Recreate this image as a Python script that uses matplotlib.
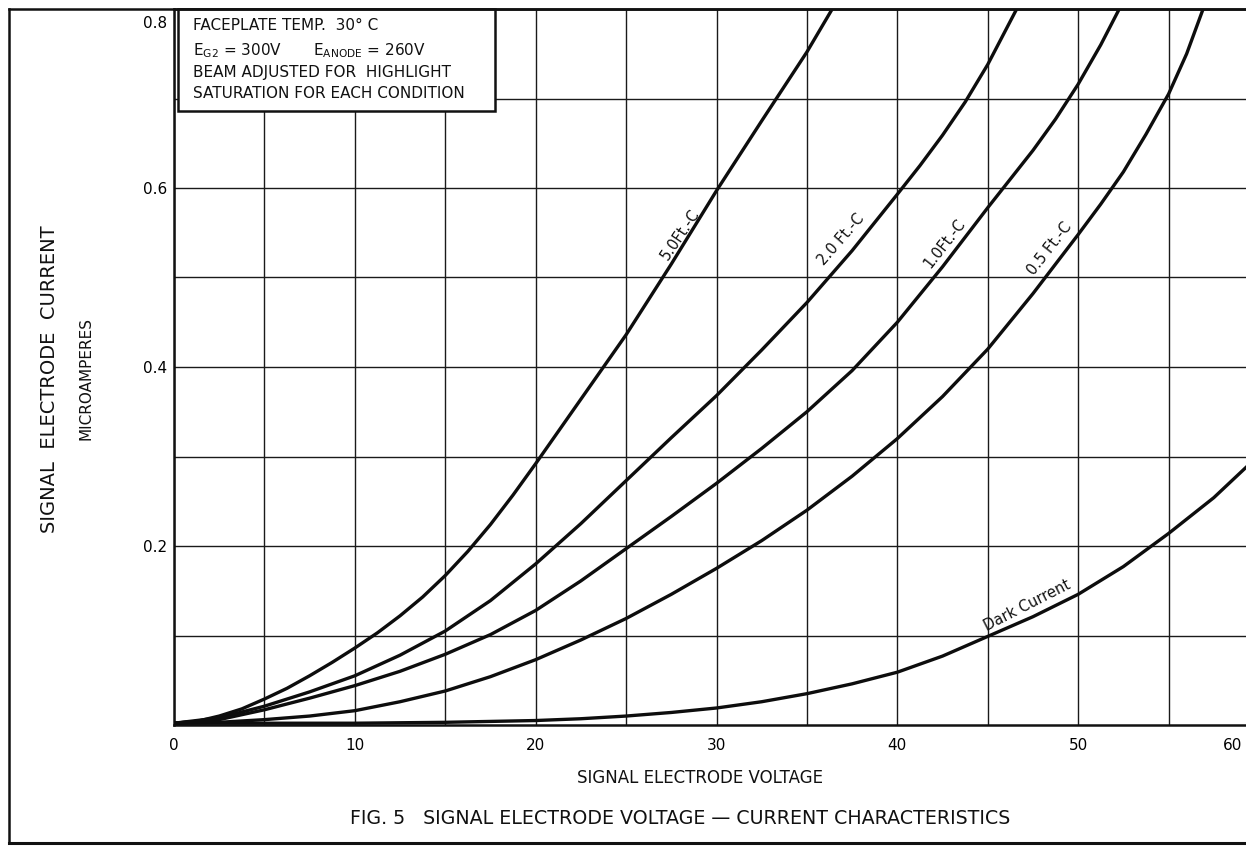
import matplotlib
matplotlib.use("Agg")
import matplotlib.pyplot as plt
from matplotlib.lines import Line2D
from matplotlib.patches import Rectangle
from matplotlib.transforms import ScaledTranslation

plt.rcParams['font.family'] = ['DejaVu Sans']

# signal electrode voltage (V) / current (microamperes)
x_50 = [0, 1.25, 2.5, 3.75, 5, 6.25, 7.5, 8.75, 10, 11.25, 12.5, 13.75, 15, 16.25, 17.5,
        18.75, 20, 22.5, 25, 27.5, 30, 32.5, 35, 36.4]
y_50 = [0.002, 0.004, 0.010, 0.018, 0.029, 0.041, 0.055, 0.070, 0.086, 0.103, 0.122, 0.143,
        0.167, 0.194, 0.224, 0.257, 0.292, 0.364, 0.436, 0.515, 0.597, 0.675, 0.752, 0.800]

x_20 = [0, 2.5, 5, 7.5, 10, 12.5, 15, 17.5, 20, 22.5, 25, 27.5, 30, 32.5, 35, 37.5, 40,
        41.25, 42.5, 43.75, 45, 46.6]
y_20 = [0.002, 0.008, 0.021, 0.037, 0.055, 0.078, 0.105, 0.139, 0.180, 0.225, 0.273, 0.321,
        0.368, 0.419, 0.472, 0.530, 0.593, 0.625, 0.659, 0.696, 0.738, 0.800]

x_10 = [0, 2.5, 5, 7.5, 10, 12.5, 15, 17.5, 20, 22.5, 25, 27.5, 30, 32.5, 35, 37.5, 40,
        42.5, 45, 47.5, 48.75, 50, 51.25, 52.4]
y_10 = [0.002, 0.006, 0.017, 0.030, 0.044, 0.060, 0.079, 0.101, 0.128, 0.161, 0.197, 0.233,
        0.270, 0.309, 0.350, 0.396, 0.450, 0.512, 0.578, 0.642, 0.677, 0.716, 0.760, 0.805]

x_05 = [0, 2.5, 5, 7.5, 10, 12.5, 15, 17.5, 20, 22.5, 25, 27.5, 30, 32.5, 35, 37.5, 40,
        42.5, 45, 47.5, 50, 51.25, 52.5, 53.75, 55, 56, 57]
y_05 = [0.002, 0.003, 0.006, 0.010, 0.016, 0.026, 0.038, 0.054, 0.073, 0.095, 0.119, 0.146,
        0.175, 0.206, 0.240, 0.278, 0.320, 0.367, 0.420, 0.482, 0.548, 0.582, 0.618, 0.660,
        0.705, 0.750, 0.805]

x_dark = [0, 5, 10, 15, 20, 22.5, 25, 27.5, 30, 32.5, 35, 37.5, 40, 42.5, 45, 47.5, 50,
          52.5, 55, 57.5, 59.5]
y_dark = [0.002, 0.002, 0.002, 0.003, 0.005, 0.007, 0.010, 0.014, 0.019, 0.026, 0.035,
          0.046, 0.059, 0.077, 0.099, 0.121, 0.146, 0.177, 0.214, 0.254, 0.292]

curves = [(x_50, y_50), (x_20, y_20), (x_10, y_10), (x_05, y_05), (x_dark, y_dark)]

# curve labels: text, x, y, rotation
curve_labels = [("5.0Ft.-C", 28.0, 0.548, 56),
                ("2.0 Ft.-C", 36.9, 0.543, 49),
                ("1.0Ft.-C", 42.6, 0.538, 52),
                ("0.5 Ft.-C", 48.4, 0.532, 52),
                ("Dark Current", 47.2, 0.134, 27)]

x_ticks = [0, 10, 20, 30, 40, 50, 60]
y_ticks = [0.2, 0.4, 0.6, 0.8]

W, H = 1246, 847
fig = plt.figure(figsize=(W / 100, H / 100), dpi=100)
fig.patch.set_facecolor('white')

# x=0 at px 174, x=60 at px 1259 ; y=0 at px 725, y=0.8 at px 9
ax = fig.add_axes([174 / W, (H - 725) / H, (1259 - 174) / W, (725 - 9) / H])
ax.set_xlim(0, 60)
ax.set_ylim(0, 0.8)

ax.set_xticks(x_ticks)
ax.set_xticks([v + 5 for v in x_ticks[:-1]], minor=True)
ax.set_yticks(y_ticks)
ax.set_yticks([0.1, 0.3, 0.5, 0.7], minor=True)
ax.set_xticklabels([str(v) for v in x_ticks])
ax.set_yticklabels(["%.1f" % v for v in y_ticks])
ax.tick_params(which='both', length=0)
ax.tick_params(axis='x', pad=9, labelsize=11)
ax.tick_params(axis='y', pad=5, labelsize=11)
ax.grid(True, which='both', color='#1a1a1a', lw=1.0)
ax.set_axisbelow(True)

for s in ['left', 'bottom', 'top']:
    ax.spines[s].set_linewidth(1.8)
    ax.spines[s].set_color('#111111')
ax.spines['right'].set_visible(False)

# move the last x label inside the picture and the top y label below the border
lab = ax.get_xticklabels()[-1]
lab.set_transform(lab.get_transform() + ScaledTranslation(-0.26, 0, fig.dpi_scale_trans))
lab = ax.get_yticklabels()[-1]
lab.set_transform(lab.get_transform() + ScaledTranslation(0, -0.13, fig.dpi_scale_trans))

for xs, ys in curves:
    ax.plot(xs, ys, color='#0d0d0d', lw=2.4, solid_capstyle='round',
            solid_joinstyle='round', zorder=3)

for txt, lx, ly, rot in curve_labels:
    ax.text(lx, ly, txt, rotation=rot, rotation_mode='anchor', ha='center', va='center',
            fontsize=10.5, color='#111111', zorder=4)

# note box in upper left
bx0, bx1 = (178 - 174) / 1085, (495 - 174) / 1085
by0 = (725 - 111) / 716
ax.add_patch(Rectangle((bx0, by0), bx1 - bx0, 1 - by0, transform=ax.transAxes,
                       facecolor='white', edgecolor='#111111', lw=1.8, zorder=5,
                       clip_on=False))
tx = (193 - 174) / 1085
box_kw = dict(transform=ax.transAxes, fontsize=11, color='#111111', va='center',
              ha='left', zorder=6)
ax.text(tx, (725 - 26) / 716, "FACEPLATE TEMP.  30° C", **box_kw)
ax.text(tx, (725 - 51) / 716, r"E$_{\mathrm{G2}}$ = 300V", **box_kw)
ax.text((313 - 174) / 1085, (725 - 51) / 716, r"E$_{\mathrm{ANODE}}$ = 260V", **box_kw)
ax.text(tx, (725 - 72) / 716, "BEAM ADJUSTED FOR  HIGHLIGHT", **box_kw)
ax.text(tx, (725 - 93) / 716, "SATURATION FOR EACH CONDITION", **box_kw)

# axis titles and caption
fig.text(50 / W, (H - 379) / H, "SIGNAL  ELECTRODE  CURRENT", rotation=90,
         ha='center', va='center', fontsize=14, color='#111111')
fig.text(86 / W, (H - 378) / H, "MICROAMPERES", rotation=90,
         ha='center', va='center', fontsize=11, color='#111111')
fig.text(700 / W, (H - 778) / H, "SIGNAL ELECTRODE VOLTAGE",
         ha='center', va='center', fontsize=12, color='#111111')
fig.text(680 / W, (H - 818) / H,
         "FIG. 5   SIGNAL ELECTRODE VOLTAGE \u2014 CURRENT CHARACTERISTICS",
         ha='center', va='center', fontsize=13.7, color='#111111')

# page frame
fl = 9 / W
fb = (H - 843) / H
ft = (H - 9) / H
fig.add_artist(Line2D([fl, fl], [fb, ft], transform=fig.transFigure, color='#111111', lw=1.8))
fig.add_artist(Line2D([fl, 1], [fb, fb], transform=fig.transFigure, color='#111111', lw=2.2))
fig.add_artist(Line2D([fl, 1], [ft, ft], transform=fig.transFigure, color='#111111', lw=1.8))

fig.savefig("out.png", dpi=100, facecolor='white')
